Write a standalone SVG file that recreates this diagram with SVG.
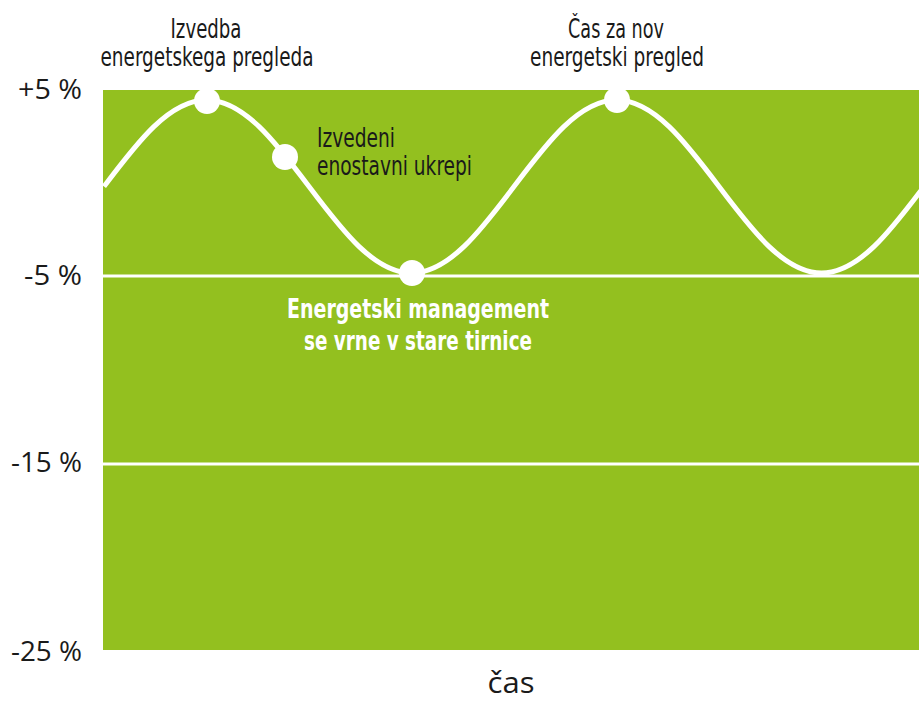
<svg xmlns="http://www.w3.org/2000/svg" width="919" height="704" viewBox="0 0 919 704">
<style>
.axis{font-family:"Open Sans","DejaVu Sans",sans-serif;font-size:27px;fill:#1a1a1a;text-anchor:end}
.lbl{font-family:"Liberation Sans Narrow","DejaVu Sans Condensed","Roboto Condensed",sans-serif;font-size:26px;fill:#1a1a1a}
.wlbl{font-family:"Liberation Sans Narrow","DejaVu Sans Condensed",sans-serif;font-size:26px;font-weight:bold;fill:#ffffff;text-anchor:middle}
.mid{text-anchor:middle}
.grid{stroke:#ffffff;stroke-width:3;fill:none}
.dot{fill:#ffffff}
</style>
<rect width="919" height="704" fill="#ffffff"/>
<g id="plot">
<rect x="103" y="90" width="816" height="560" fill="#93c01f"/>
</g>
<g id="connectors">
<line class="grid" x1="103" y1="276" x2="919" y2="276"/>
<line class="grid" x1="103" y1="464" x2="919" y2="464"/>
<path d="M104,186.5 C137.43,142.19 169.4,100 206.5,100 C243.6,100 275.57,142.19 309,186.5 C342.43,230.81 374.4,273 411.5,273 C448.6,273 480.57,230.81 514,186.5 C547.43,142.19 579.4,100 616.5,100 C653.6,100 685.57,142.19 719,186.5 C752.43,230.81 784.4,273 821.5,273 C858.6,273 890.57,230.81 924,186.5" fill="none" stroke="#ffffff" stroke-width="5"/>
</g>
<g id="node-pregled">
<circle class="dot" cx="207" cy="101" r="13"/>
<text class="lbl mid" x="206" y="38" textLength="71" lengthAdjust="spacingAndGlyphs">Izvedba</text>
<text class="lbl mid" x="207" y="66" textLength="213" lengthAdjust="spacingAndGlyphs">energetskega pregleda</text>
</g>
<g id="node-ukrepi">
<circle class="dot" cx="285" cy="157" r="13"/>
<text class="lbl" x="317" y="147" textLength="78" lengthAdjust="spacingAndGlyphs">Izvedeni</text>
<text class="lbl" x="317" y="175" textLength="155" lengthAdjust="spacingAndGlyphs">enostavni ukrepi</text>
</g>
<g id="node-management">
<circle class="dot" cx="412" cy="273" r="13"/>
<text class="wlbl" x="418" y="318" textLength="262" lengthAdjust="spacingAndGlyphs">Energetski management</text>
<text class="wlbl" x="418" y="350" textLength="228" lengthAdjust="spacingAndGlyphs">se vrne v stare tirnice</text>
</g>
<g id="node-nov">
<circle class="dot" cx="617" cy="100" r="13"/>
<text class="lbl mid" x="616" y="38" textLength="96" lengthAdjust="spacingAndGlyphs">Čas za nov</text>
<text class="lbl mid" x="617" y="66" textLength="174" lengthAdjust="spacingAndGlyphs">energetski pregled</text>
</g>
<g id="axis">
<text class="axis" x="82" y="99" textLength="64" lengthAdjust="spacingAndGlyphs">+5 %</text>
<text class="axis" x="82" y="285" textLength="58" lengthAdjust="spacingAndGlyphs">-5 %</text>
<text class="axis" x="82" y="472" textLength="71" lengthAdjust="spacingAndGlyphs">-15 %</text>
<text class="axis" x="82" y="661" textLength="71" lengthAdjust="spacingAndGlyphs">-25 %</text>
<text class="axis" x="511" y="693" style="text-anchor:middle;font-size:30px" textLength="47" lengthAdjust="spacingAndGlyphs">čas</text>
</g>
</svg>
